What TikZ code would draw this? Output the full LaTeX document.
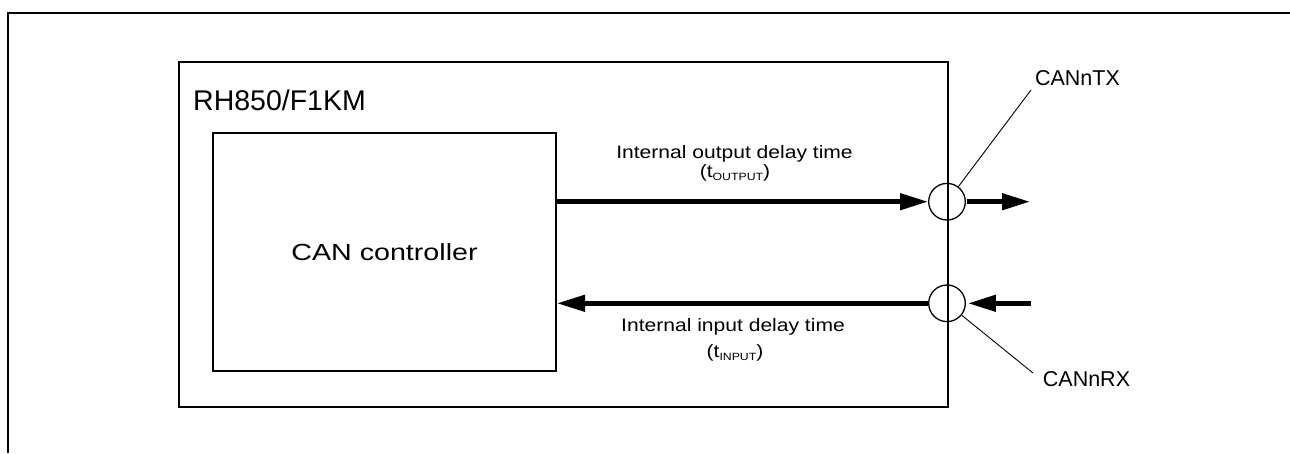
\documentclass[tikz,border=0pt]{standalone}
\usepackage{fontspec}
\setmainfont{Liberation Sans}
\usetikzlibrary{arrows.meta}
\newcommand\wideA[1]{\scalebox{1.23}[1]{#1}}
\newcommand\wideB[1]{\scalebox{1.17}[1]{#1}}
\newcommand\subtxt[1]{\raisebox{-3pt}{\fontsize{10.5}{10.5}\selectfont #1}}
\tikzset{
  frameline/.style={line width=2pt},
  box/.style={draw, rectangle, line width=2pt, inner sep=0pt},
  pin/.style={draw, circle, minimum size=36.6pt, inner sep=0pt, line width=1.3pt},
  sig/.style={line width=4.5pt, -{Triangle[length=28pt,width=16pt]}},
  leader/.style={line width=0.9pt},
  lbl/.style={inner sep=0pt, anchor=base, font=\fontsize{18}{18}\selectfont},
  pinlbl/.style={inner sep=0pt, anchor=base, font=\fontsize{21.5}{21.5}\selectfont},
}
\begin{document}
\begin{tikzpicture}[x=1pt,y=-1pt]
\useasboundingbox (0,0) rectangle (1290,453);
% outer frame (cut)
\draw[frameline] (8,453) -- (8,13) -- (1290,13);
% chip
\node[box, minimum width=769pt, minimum height=345pt] (chip) at (563.5,234.5) {};
\node[inner sep=0pt, anchor=base west, font=\fontsize{28.5}{28.5}\selectfont] (chipname) at (193,110) {RH850/F1KM};
% controller
\node[box, minimum width=343pt, minimum height=238pt, font=\fontsize{23.3}{23.3}\selectfont] (cc) at (384.5,252) {\wideA{CAN controller}};
% pins
\node[pin] (ctx) at (947,201.7) {};
\node[pin] (crx) at (947,303.3) {};
% signals
\draw[sig] (cc.east |- ctx) -- (ctx.west);
\draw[sig] (crx.west) -- (cc.east |- crx);
\coordinate (txout) at (1030,201.7);
\coordinate (rxin) at (1031,303.3);
\draw[sig, shorten <=1.5pt] (ctx.east) -- (txout);
\draw[sig, shorten >=2pt] (rxin) -- (crx.east);
% labels
\node[lbl] (outA) at (734.5,158.7) {\wideB{Internal output delay time}};
\node[lbl] (outB) at (735,177) {\wideB{(t\subtxt{OUTPUT})}};
\node[lbl] (inA) at (733,331.7) {\wideB{Internal input delay time}};
\node[lbl] (inB) at (735,357) {\wideB{(t\subtxt{INPUT})}};
% pin names
\node[pinlbl] (ltx) at (1077.5,85) {CANnTX};
\node[pinlbl] (lrx) at (1086.5,386.7) {CANnRX};
\coordinate (txlead) at (1031,90);
\coordinate (rxlead) at (1033,373);
\draw[leader] (ctx) -- (txlead);
\draw[leader] (crx) -- (rxlead);
\end{tikzpicture}
\end{document}
